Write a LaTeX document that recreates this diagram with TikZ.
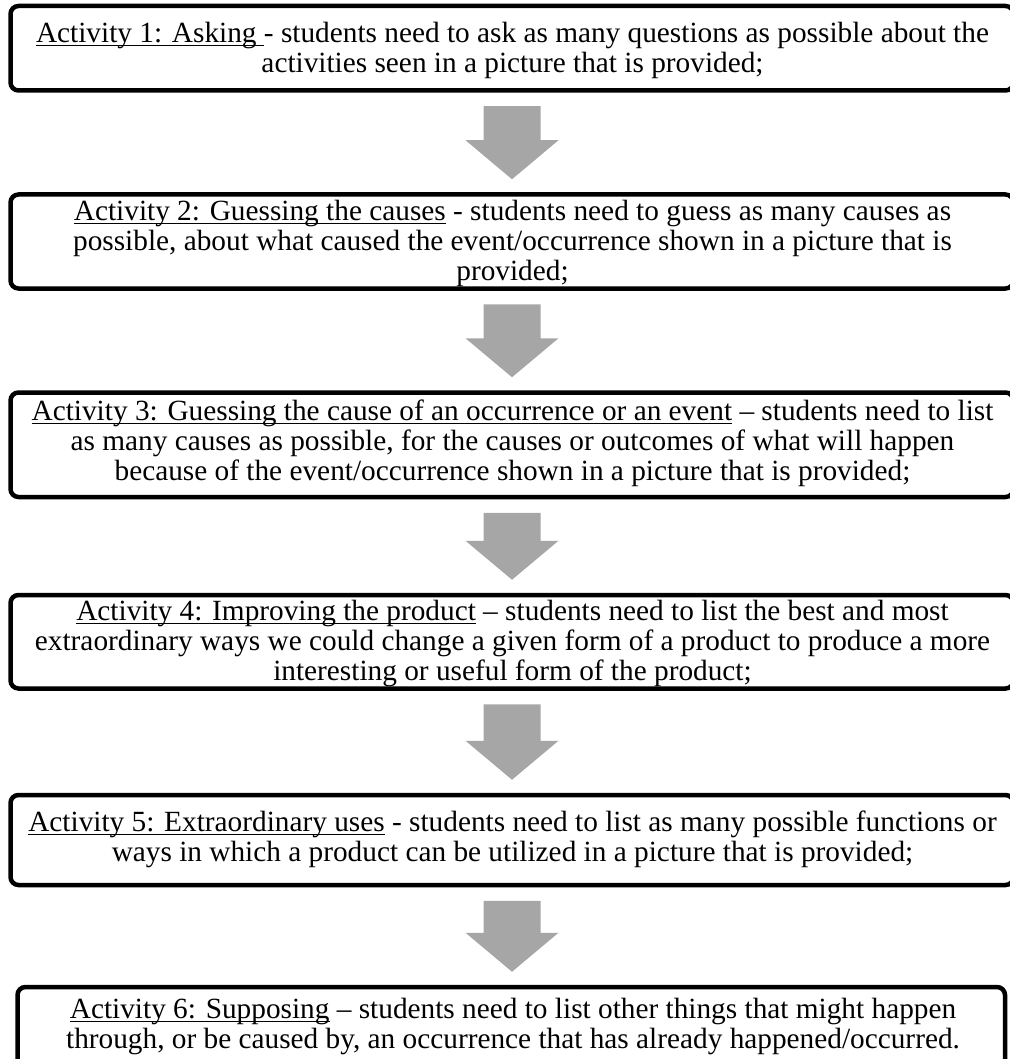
\documentclass[tikz,border=0pt]{standalone}
\usepackage{fontspec}
\setmainfont{Liberation Serif}
\usetikzlibrary{calc}
\definecolor{arrowgray}{RGB}{166,166,166}
% underlined title of an activity
\newcommand{\actline}[1]{\setbox0\hbox{#1}\rlap{\rule[-3.5pt]{\wd0}{1.5pt}}\box0\relax}
% grey block arrow from the box #1 down to the box #2
\newcommand{\blockdown}[2]{%
	\fill[arrowgray, xshift=1.5pt] ($(#1.south)+(-28.5,13.5)$) -- ($(#1.south)+(28.5,13.5)$)
		-- ($(#1.south |- #2.north)+(28.5,-52)$) -- ($(#1.south |- #2.north)+(46.5,-52)$)
		-- ($(#1.south |- #2.north)+(0,-13)$)
		-- ($(#1.south |- #2.north)+(-46.5,-52)$) -- ($(#1.south |- #2.north)+(-28.5,-52)$) -- cycle;}

\begin{document}
\begin{tikzpicture}[x=1pt, y=-1pt,
		actframe/.style={draw, line width=4.5pt, rounded corners=8pt, inner sep=0pt, minimum width=1003pt},
		acttext/.style={anchor=north, align=center, inner sep=0pt, font=\fontsize{29.3}{30}\selectfont}]
			%%%%% START %%%%%
			\useasboundingbox (0, 0) rectangle (1009, 1059);
			
			\node[actframe, minimum height=84.5pt] (b1) at (512, 48.25) {};
			\node[actframe, minimum height=94pt] (b2) at (512, 241.5) {};
			\node[actframe, minimum height=104.5pt] (b3) at (512, 444.75) {};
			\node[actframe, minimum height=93.5pt] (b4) at (512, 641.75) {};
			\node[actframe, minimum height=90pt] (b5) at (512, 840) {};
			\node[actframe, minimum height=88pt, minimum width=987.5pt] (b6) at (511.25, 1031) {};
			
			\node[acttext] (t1) at (512.5, 22) {\actline{Activity 1: Asking }- students need to ask as many questions as possible about the\\
				activities seen in a picture that is provided;};
			\node[acttext] (t2) at (512.5, 200) {\actline{Activity 2: Guessing the causes} - students need to guess as many causes as\\
				possible, about what caused the event/occurrence shown in a picture that is\\
				provided;};
			\node[acttext] (t3) at (512.5, 400) {\actline{Activity 3: Guessing the cause of an occurrence or an event} – students need to list\\
				as many causes as possible, for the causes or outcomes of what will happen\\
				because of the event/occurrence shown in a picture that is provided;};
			\node[acttext] (t4) at (512.5, 600) {\actline{Activity 4: Improving the product} – students need to list the best and most\\
				extraordinary ways we could change a given form of a product to produce a more\\
				interesting or useful form of the product;};
			\node[acttext] (t5) at (512.5, 811) {\actline{Activity 5: Extraordinary uses} - students need to list as many possible functions or\\
				ways in which a product can be utilized in a picture that is provided;};
			\node[acttext] (t6) at (513, 998) {\actline{Activity 6: Supposing} – students need to list other things that might happen\\
				through, or be caused by, an occurrence that has already happened/occurred.};
			
			\blockdown{b1}{b2}
			\blockdown{b2}{b3}
			\blockdown{b3}{b4}
			\blockdown{b4}{b5}
			\blockdown{b5}{b6}
			%%%%% END %%%%%
\end{tikzpicture}
\end{document}
